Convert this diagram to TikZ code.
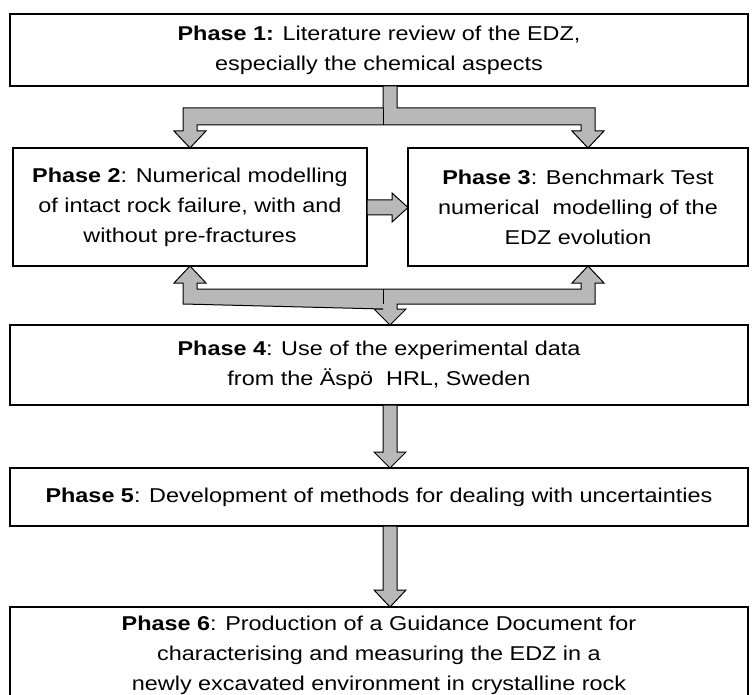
\documentclass[tikz,border=0pt]{standalone}
\usepackage{fontspec}
\setmainfont{Liberation Sans}[FakeStretch=1.17]
\begin{document}
\begin{tikzpicture}[x=1pt,y=-1pt,
  phasebox/.style={draw=black, line width=1.2pt, fill=white, inner sep=0pt, align=center,
    font=\fontsize{20}{30}\selectfont},
  blockarrow/.style={fill=black!28, draw=black, line width=1pt, line join=miter}]
\useasboundingbox (0,0) rectangle (752,695);
\clip (0,0) rectangle (752,695);
% boxes
\node[phasebox, minimum width=738pt, minimum height=72pt] (b1) at (379,50)
  {\textbf{Phase 1:} Literature review of the EDZ,\\especially the chemical aspects};
\node[phasebox, minimum width=354pt, minimum height=118pt] (b2) at (190,207)
  {\textbf{Phase 2}: Numerical modelling\\of intact rock failure, with and\\without pre-fractures};
\node[phasebox, minimum width=340pt, minimum height=118pt] (b3) at (578,207)
  {\textbf{Phase 3}: Benchmark Test\\numerical\ \ modelling of the\\EDZ evolution};
\node[phasebox, minimum width=738pt, minimum height=80pt] (b4) at (379,365)
  {\textbf{Phase 4}: Use of the experimental data\\from the Äspö\ \ HRL, Sweden};
\node[phasebox, minimum width=738pt, minimum height=58pt] (b5) at (379,497)
  {\textbf{Phase 5}: Development of methods for dealing with uncertainties};
\node[phasebox, minimum width=738pt, minimum height=96pt] (b6) at (379,655)
  {\textbf{Phase 6}: Production of a Guidance Document for\\characterising and measuring the EDZ in a\\newly excavated environment in crystalline rock};
% top split arrow (b1 -> b2, b3)
\draw[blockarrow] (383,86) -- (383,108) -- (183,108) -- (183,131) -- (174,131) -- (190,148)
  -- (206,131) -- (197,131) -- (197,125) -- (581,125) -- (581,131) -- (572,131) -- (588,148)
  -- (604,131) -- (595,131) -- (595,108) -- (397,108) -- (397,86) -- cycle;
\draw[line width=1pt] (383,108) -- (383,125);
% b2 -> b3
\draw[blockarrow] (367,200) -- (392,200) -- (392,193) -- (408,207.5) -- (392,222) -- (392,215)
  -- (367,215) -- cycle;
% bottom join arrow (b2, b3 <- -> b4)
\draw[blockarrow] (183,304) -- (183,283) -- (174,283) -- (190,266) -- (206,283) -- (197,283)
  -- (197,289) -- (581,289) -- (581,283) -- (572,283) -- (588,266) -- (604,283) -- (595,283)
  -- (595,304) -- (397,304) -- (397,309) -- (406,309) -- (390,325) -- (374,309) -- (383,309)
  -- cycle;
\draw[line width=1pt] (383,289) -- (383,304);
% b4 -> b5
\draw[blockarrow] (383,405) -- (383,452) -- (374,452) -- (390,468) -- (406,452) -- (397,452)
  -- (397,405) -- cycle;
% b5 -> b6
\draw[blockarrow] (383,526) -- (383,590) -- (374,590) -- (390,607) -- (406,590) -- (397,590)
  -- (397,526) -- cycle;
\end{tikzpicture}
\end{document}
